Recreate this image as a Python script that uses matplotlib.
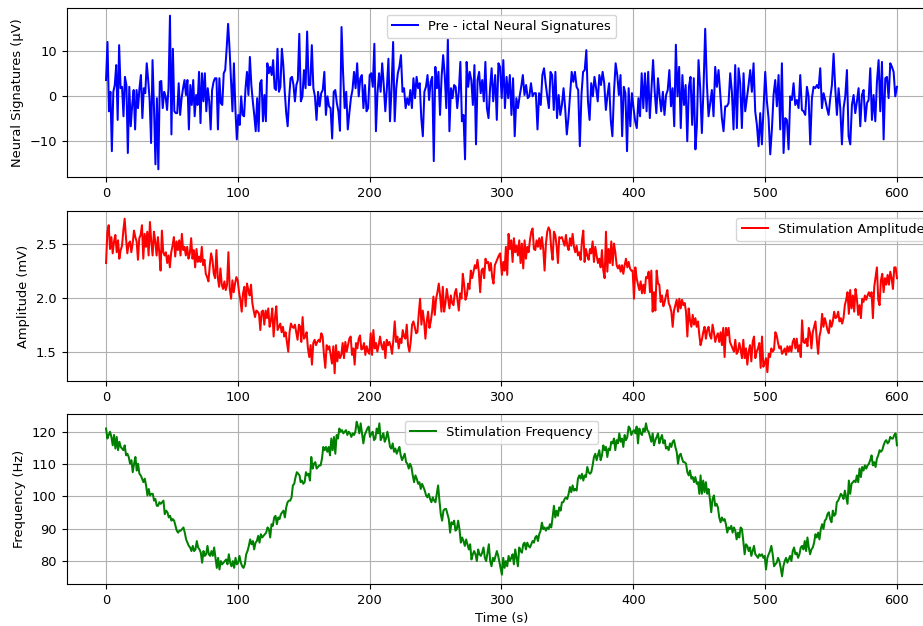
import numpy as np
import matplotlib
matplotlib.use("Agg")
import matplotlib.pyplot as plt

plt.rcParams["font.size"] = 9.4

# ---------------- data ----------------
# Neural signatures (uV), in four consecutive stretches of time
sig_bounds = [(0, 146.6), (147.8, 293.7), (295.2, 447.1), (448.2, 600)]
sig_a = [3.5, 11.9, -3.4, 0.9, -12.2, 0.9, 2.4, 6.8, -5.3, 11.2, 1.7, 2.0, -4.5, 4.2, 2.4, -12.6,
         2.0, -6.7, -2.0, 1.3, -7.4, 1.3, -2.7, 1.7, 4.6, -4.9, 1.7, 0.6, 7.2, 3.5, -0.9, -10.4,
         7.9, -2.7, -15.1, -0.5, -16.2, 3.1, 3.3, -2.7, 0.9, -0.1, -3.1, 1.7, 17.7, -8.5, 10.4,
         -3.4, -3.8, -3.8, 2.8, -4.2, -0.5, 1.7, 3.5, 0.2, 3.5, -7.4, 2.4, -2.0, 3.5, -4.5, 0.2,
         -2.0, 5.3, -6.0, 5.0, -1.2, 5.0, -3.4, 1.7, -1.2, -7.4, 1.3, 3.1, 3.9, 3.9, -7.4, 3.9,
         -1.6, -2.0, 5.0, 5.7, 10.4, 15.9, 10.4, 3.5, -3.4, 7.2, -2.7, -9.6, -4.2, -6.4, -0.1,
         -4.2, -4.5, 1.7, 5.3, 0.2, 8.6, 2.4, -1.2, -4.2, -7.8, -0.5, -7.8, 2.8, 3.5, -5.6, 0.2,
         -5.6, 7.2, 5.0, 6.4, 4.6, 7.9, 1.7, 1.3, 10.4, 0.9, 2.0, 10.4, 6.8, 0.9, -3.8, -6.7,
         -0.5, 3.9, 4.2, 2.4, -1.2, 2.4, 3.5, 13.7]
sig_b = [-1.2, -0.1, 5.7, 1.7, 14.2, 2.4, 2.4, 11.2, 1.7, -0.1, -5.3, 0.9, -2.3, 0.6, 1.3, 5.3,
         -4.2, -0.1, -2.3, -2.7, -9.4, 0.9, 1.3, -1.6, -3.4, -7.7, 15.2, 5.0, -2.7, 0.9, -7.4,
         -3.8, -0.5, 1.3, 5.3, 1.7, 7.2, -0.1, 3.9, 4.6, -2.7, 2.4, -3.4, -2.7, 4.6, 5.0, 2.0,
         11.5, -7.8, 0.6, 5.0, 0.9, 7.2, 2.4, -3.4, 1.7, 8.2, -5.6, 1.7, 11.9, -5.6, 1.7, 5.0,
         6.4, 9.0, 0.9, 1.7, -2.7, -0.5, -2.0, 1.3, -2.7, 3.9, -0.5, 4.2, 1.7, 2.8, -4.9, -8.9,
         0.9, 2.0, 4.6, -0.9, 3.1, 4.2, -14.4, 6.4, 1.7, 5.3, -4.2, 4.2, 9.0, 4.6, -2.7, 12.5,
         -7.8, 1.7, -0.5, 2.4, 2.0, -2.7, 0.9, 7.5, -5.6, -4.2, -14.0, 7.5, 2.0, 5.3, 3.5, -2.0,
         6.8, -10.7, 3.5, 5.3, 0.6, 3.5, -1.2, 7.5, -2.7, -4.9, 1.7, 6.1, -1.2]
sig_c = [4.6, -5.3, 7.2, 6.4, -0.5, 7.9, -2.7, 4.2, -0.5, 4.6, -4.2, 3.9, -8.9, -0.5, -2.7,
         -0.1, 2.0, 4.6, 0.2, 2.4, -0.5, -0.1, 2.8, -0.1, 0.6, 0.6, -7.4, 0.6, -2.0, 4.6, 6.1,
         2.8, -0.1, -2.7, 5.3, 4.6, -3.1, 5.3, -4.9, 0.2, -4.2, -2.0, 1.7, -2.7, -8.5, -4.9, 0.2,
         5.3, 3.1, 5.3, 2.0, 1.3, -11.1, 0.2, 5.3, 5.7, 10.1, -1.2, -5.3, 2.8, -0.1, 4.2, 1.7,
         -1.2, 4.6, 2.4, 5.3, 2.8, -3.1, 0.2, 2.8, -5.3, -8.9, 0.9, 7.2, 4.6, 0.2, 4.6, -8.9, 2.0,
         0.6, -12.2, 1.7, -6.7, 0.6, -2.7, -5.6, -7.1, -0.5, -4.5, 5.0, -2.7, 5.0, -3.4, 5.3,
         -4.9, 1.7, 7.9, 0.9, -3.8, 3.9, -0.1, -3.4, 0.9, -4.2, 0.2, 1.3, 5.7, -2.3, 1.7, -6.7,
         11.3, -0.1, 6.4, -7.1, 4.6, -2.0, 2.4, -10.0, 2.0, 4.2, -6.4, 3.9, -11.8]
sig_d = [-6.7, 7.9, 1.7, -8.2, 1.7, 14.8, 2.8, -4.5, -1.6, 1.3, -4.5, 6.4, 2.0, 5.7, 0.6, -4.9,
         -7.8, -2.3, -2.3, -1.6, 5.0, 0.9, -7.4, 6.8, -7.1, 6.1, 2.8, -7.1, 5.0, -3.4, -0.5, 2.4,
         5.7, 0.9, 7.2, -3.4, -6.4, -11.1, -3.8, -10.7, -2.7, 5.3, -1.2, -4.9, -12.9, -7.4, 0.2,
         3.5, -2.3, 4.6, -7.4, 7.2, -12.6, -4.9, -5.3, -11.8, -0.1, -0.9, 2.8, -2.0, -0.9, -2.7,
         4.6, -3.1, -3.4, -4.2, 2.0, -0.1, -10.7, -0.5, 2.0, 1.7, 2.4, 1.7, 6.1, -2.7, 0.6, -0.9,
         -2.7, -4.2, -0.5, 2.4, 9.3, 1.7, -4.2, 1.7, -2.7, -10.7, -2.7, -0.1, 5.7, -8.9, -10.7,
         -2.0, 0.2, -3.8, -1.2, 1.7, -6.7, 0.2, 1.3, -5.6, -1.6, -0.9, 6.1, -5.3, 0.2, -5.6, 3.1,
         7.9, -3.4, 7.5, -9.6, 3.9, 4.2, -0.5, 7.2, 6.4, 5.3, -0.1, 2.0]

# Stimulation amplitude (mV)
amp_bounds = [(0, 147.3), (148.1, 299.0), (300.3, 450.1), (451.0, 600)]
amp_a = [2.32, 2.61, 2.67, 2.45, 2.56, 2.41, 2.52, 2.58, 2.42, 2.53, 2.36, 2.44, 2.48, 2.62, 2.73,
         2.55, 2.41, 2.50, 2.52, 2.42, 2.50, 2.62, 2.56, 2.52, 2.35, 2.55, 2.58, 2.67, 2.36, 2.59,
         2.47, 2.61, 2.39, 2.70, 2.52, 2.39, 2.61, 2.52, 2.39, 2.56, 2.42, 2.25, 2.62, 2.42, 2.39,
         2.42, 2.32, 2.39, 2.28, 2.42, 2.48, 2.56, 2.38, 2.52, 2.44, 2.53, 2.39, 2.59, 2.44, 2.47,
         2.39, 2.47, 2.36, 2.41, 2.55, 2.36, 2.44, 2.28, 2.45, 2.33, 2.38, 2.33, 2.47, 2.30, 2.35,
         2.22, 2.19, 2.15, 2.30, 2.41, 2.35, 2.22, 2.18, 2.44, 2.19, 2.10, 2.27, 2.12, 2.08, 2.15,
         2.07, 2.12, 2.42, 2.08, 1.99, 2.16, 2.05, 2.13, 2.19, 2.16, 2.05, 1.98, 1.87, 2.04, 2.10,
         1.92, 2.13, 2.07, 2.02, 2.12, 1.95, 1.88, 1.82, 1.88, 1.87, 1.85, 1.70, 1.87, 1.88, 1.75,
         1.88, 1.81, 1.90, 1.73, 1.79, 1.90, 1.64, 1.81, 1.92, 1.70, 1.73, 1.76, 1.68, 1.73, 1.64,
         1.68, 1.59, 1.50, 1.68, 1.76, 1.73, 1.72, 1.75, 1.68, 1.61, 1.75, 1.73]
amp_b = [1.59, 1.82, 1.62, 1.64, 1.68, 1.53, 1.45, 1.56, 1.38, 1.58, 1.61, 1.56, 1.59, 1.61, 1.59,
         1.67, 1.64, 1.47, 1.35, 1.56, 1.52, 1.55, 1.47, 1.39, 1.55, 1.30, 1.56, 1.41, 1.50, 1.44,
         1.47, 1.58, 1.44, 1.59, 1.50, 1.56, 1.62, 1.64, 1.47, 1.53, 1.38, 1.58, 1.53, 1.62, 1.65,
         1.52, 1.53, 1.58, 1.47, 1.55, 1.50, 1.48, 1.67, 1.47, 1.70, 1.53, 1.58, 1.50, 1.56, 1.64,
         1.56, 1.52, 1.59, 1.44, 1.61, 1.56, 1.59, 1.55, 1.48, 1.61, 1.78, 1.59, 1.64, 1.53, 1.62,
         1.58, 1.70, 1.64, 1.62, 1.75, 1.56, 1.50, 1.59, 1.75, 1.78, 1.73, 1.67, 1.68, 1.85, 1.99,
         1.75, 1.88, 1.78, 1.62, 1.78, 1.87, 1.72, 1.78, 1.87, 2.01, 1.84, 1.99, 2.05, 2.13, 2.02,
         1.87, 2.10, 1.87, 1.95, 2.08, 1.99, 1.90, 2.02, 1.95, 1.93, 2.04, 2.08, 1.98, 1.88, 2.04,
         1.99, 2.22, 2.12, 1.98, 2.02, 2.13, 2.08, 2.25, 2.18, 2.24, 2.30, 2.27, 2.35, 2.24, 2.05,
         2.25, 2.27, 2.18, 2.36, 2.32, 2.33, 2.25, 2.32, 2.19, 2.13, 2.30, 2.33, 2.36, 2.39, 2.41]
amp_c = [2.21, 2.33, 2.25, 2.47, 2.21, 2.59, 2.45, 2.53, 2.33, 2.55, 2.42, 2.48, 2.39, 2.53, 2.32,
         2.50, 2.27, 2.53, 2.36, 2.47, 2.42, 2.53, 2.61, 2.64, 2.45, 2.44, 2.53, 2.47, 2.55, 2.45,
         2.56, 2.45, 2.25, 2.50, 2.61, 2.65, 2.62, 2.45, 2.35, 2.61, 2.58, 2.48, 2.32, 2.56, 2.55,
         2.56, 2.52, 2.48, 2.58, 2.48, 2.44, 2.55, 2.48, 2.59, 2.47, 2.42, 2.48, 2.39, 2.42, 2.35,
         2.53, 2.62, 2.33, 2.45, 2.39, 2.35, 2.45, 2.41, 2.52, 2.33, 2.47, 2.39, 2.32, 2.36, 2.28,
         2.44, 2.25, 2.18, 2.61, 2.24, 2.45, 2.32, 2.52, 2.30, 2.50, 2.42, 2.30, 2.27, 2.30, 2.24,
         2.30, 2.22, 2.30, 2.36, 2.28, 2.33, 2.27, 2.25, 2.25, 1.99, 2.28, 2.18, 2.12, 2.07, 2.15,
         2.04, 2.12, 2.04, 2.19, 2.18, 2.24, 2.05, 2.25, 1.87, 2.05, 1.88, 2.25, 2.13, 2.12, 1.96,
         2.02, 1.92, 1.96, 2.02, 2.07, 1.95, 1.92, 1.87, 1.73, 1.88, 1.93, 1.98, 1.87, 1.99, 1.90,
         1.98, 1.93, 1.95, 1.87, 1.64, 1.90, 1.79, 1.73, 1.84, 1.75, 1.81, 1.73, 1.78, 1.65]
amp_d = [1.56, 1.61, 1.68, 1.73, 1.62, 1.70, 1.73, 1.65, 1.62, 1.75, 1.68, 1.59, 1.64, 1.67, 1.59,
         1.68, 1.56, 1.72, 1.45, 1.72, 1.65, 1.72, 1.59, 1.56, 1.53, 1.50, 1.61, 1.48, 1.50, 1.58,
         1.52, 1.44, 1.61, 1.44, 1.53, 1.38, 1.50, 1.56, 1.41, 1.59, 1.64, 1.44, 1.50, 1.53, 1.58,
         1.35, 1.64, 1.36, 1.39, 1.44, 1.31, 1.48, 1.45, 1.53, 1.50, 1.52, 1.68, 1.65, 1.58, 1.53,
         1.55, 1.48, 1.50, 1.53, 1.47, 1.55, 1.50, 1.55, 1.50, 1.59, 1.62, 1.53, 1.62, 1.50, 1.56,
         1.45, 1.79, 1.59, 1.58, 1.62, 1.55, 1.72, 1.67, 1.53, 1.68, 1.73, 1.78, 1.61, 1.48, 1.64,
         1.70, 1.85, 1.73, 1.81, 1.76, 1.70, 1.67, 1.79, 1.73, 1.78, 1.87, 1.81, 1.82, 1.87, 1.78,
         1.81, 1.76, 1.81, 1.93, 1.98, 2.05, 1.85, 2.07, 1.90, 2.02, 1.87, 2.08, 1.99, 1.84, 1.93,
         1.81, 1.99, 1.96, 2.02, 1.98, 2.02, 2.05, 2.01, 2.05, 1.81, 2.10, 2.19, 2.28, 1.98, 1.93,
         2.16, 2.22, 2.05, 2.18, 2.12, 2.21, 2.12, 2.24, 2.18, 2.08, 2.28, 2.28, 2.18]

# Stimulation frequency (Hz)
freq_bounds = [(0, 146.8), (147.6, 298.5), (300.3, 450.1), (451.0, 600)]
freq_a = [121.0, 117.9, 119.0, 120.0, 118.4, 115.8, 119.0, 114.8, 118.4, 114.3, 116.9, 115.3, 114.8,
          114.3, 115.8, 112.7, 113.2, 112.2, 110.1, 111.2, 107.5, 110.1, 112.2, 108.0, 110.1, 107.0,
          106.5, 105.5, 104.4, 105.5, 103.4, 100.3, 102.3, 100.3, 100.8, 100.8, 98.7, 99.2, 97.1,
          97.1, 98.2, 97.7, 98.2, 98.7, 94.5, 95.6, 95.1, 93.5, 94.0, 92.5, 93.0, 92.5, 90.9, 89.4,
          88.8, 89.4, 89.4, 89.9, 90.4, 88.8, 86.7, 85.7, 84.7, 84.2, 83.1, 84.7, 83.1, 83.6, 86.2,
          84.2, 83.6, 82.6, 79.5, 83.1, 81.6, 82.1, 84.7, 82.1, 81.6, 83.1, 81.6, 84.2, 81.0, 77.9,
          81.0, 77.4, 80.0, 79.0, 79.5, 80.0, 80.5, 79.0, 82.1, 79.5, 78.4, 80.0, 77.9, 81.0, 79.0,
          79.5, 81.6, 79.5, 78.4, 77.9, 79.0, 82.1, 83.1, 84.7, 86.7, 85.2, 86.2, 83.6, 85.7, 86.2,
          87.8, 85.7, 88.3, 87.3, 87.8, 88.3, 88.8, 90.4, 89.9, 87.3, 91.4, 90.9, 93.5, 94.0, 91.4,
          93.5, 93.0, 94.5, 95.1, 95.6, 93.5, 96.6, 98.2, 98.7, 98.7, 99.7, 103.4, 103.9, 106.0,
          107.5, 107.0, 106.5]
freq_b = [104.4, 104.9, 103.9, 104.4, 107.5, 106.5, 107.0, 104.9, 112.2, 108.6, 110.1, 110.6, 108.6,
          109.1, 109.6, 109.6, 111.7, 115.3, 114.3, 115.3, 113.8, 115.3, 112.7, 117.9, 114.3, 118.4,
          113.2, 119.0, 117.9, 121.0, 120.0, 120.5, 119.5, 120.0, 120.5, 119.0, 120.0, 119.5, 118.4,
          119.5, 119.0, 120.0, 123.1, 121.6, 119.5, 122.6, 119.5, 116.4, 119.0, 120.0, 121.0, 121.6,
          118.4, 119.5, 120.0, 117.4, 117.9, 121.0, 119.5, 122.6, 117.4, 118.4, 119.5, 116.9, 117.9,
          120.0, 117.9, 115.3, 114.8, 116.4, 113.8, 114.8, 113.2, 114.3, 115.3, 112.7, 111.2, 112.2,
          113.2, 110.6, 110.1, 108.6, 110.1, 109.1, 106.5, 104.4, 106.5, 105.5, 103.9, 104.4, 102.3,
          103.9, 102.9, 101.8, 100.3, 99.7, 100.8, 99.2, 98.2, 99.7, 98.7, 98.2, 100.8, 103.4, 98.7,
          94.5, 92.5, 95.6, 96.1, 96.1, 94.5, 93.0, 88.8, 92.0, 91.4, 92.5, 89.4, 89.9, 92.5, 89.9,
          85.7, 87.3, 86.2, 84.7, 86.7, 85.2, 83.6, 85.2, 80.5, 82.1, 83.1, 82.1, 80.0, 83.6, 82.1,
          81.6, 82.6, 84.2, 81.0, 80.0, 82.6, 85.2, 80.0, 78.4, 81.0, 80.0, 81.6, 83.1, 81.6, 79.5]
freq_c = [75.8, 81.0, 77.9, 80.0, 78.4, 81.6, 80.0, 81.0, 82.1, 79.0, 83.6, 81.0, 78.4, 84.2, 83.1,
          82.6, 85.2, 85.7, 83.6, 85.7, 84.7, 84.2, 85.2, 86.2, 85.7, 87.3, 87.8, 86.2, 88.3, 89.4,
          91.9, 89.9, 90.4, 89.4, 90.4, 89.9, 91.4, 90.4, 93.5, 97.1, 93.5, 95.6, 94.0, 96.6, 95.6,
          98.2, 98.2, 99.2, 99.7, 99.2, 100.8, 102.9, 101.3, 103.4, 101.8, 102.3, 101.8, 105.5, 106.5,
          105.5, 107.0, 104.9, 106.5, 106.0, 109.1, 107.5, 107.0, 107.5, 109.6, 112.2, 113.2, 111.2,
          112.7, 114.3, 111.2, 112.7, 115.8, 114.3, 115.3, 112.2, 114.8, 114.3, 116.9, 116.4, 117.9,
          114.3, 117.4, 116.4, 119.5, 116.9, 117.9, 115.3, 119.0, 117.4, 118.4, 121.6, 121.0, 119.0,
          120.0, 120.5, 119.5, 121.6, 116.4, 121.0, 119.5, 119.0, 121.0, 120.0, 122.6, 120.5, 120.0,
          118.4, 116.9, 119.5, 115.8, 117.4, 118.4, 119.5, 116.4, 117.9, 119.0, 116.4, 117.4, 114.8,
          115.3, 114.3, 116.4, 115.3, 116.9, 117.4, 115.3, 113.8, 110.1, 112.7, 113.2, 111.7, 110.6,
          110.6, 110.1, 107.5, 106.5, 108.0, 105.5, 106.0, 104.4, 106.0, 103.9, 104.4, 100.8]
freq_d = [106.5, 100.8, 104.9, 101.3, 104.4, 100.8, 102.3, 99.2, 95.1, 99.2, 100.3, 97.1, 97.7,
          96.6, 93.5, 92.0, 93.5, 92.5, 93.0, 91.4, 88.8, 90.4, 89.9, 90.9, 88.8, 90.4, 89.4, 86.7,
          88.8, 87.3, 90.4, 89.9, 86.2, 82.1, 85.2, 84.7, 83.1, 84.2, 81.6, 83.1, 84.7, 82.1, 81.6,
          81.0, 82.1, 81.6, 82.1, 81.0, 81.6, 77.4, 81.0, 82.1, 83.1, 84.7, 82.1, 78.4, 79.0, 79.5,
          81.0, 80.0, 77.9, 75.3, 78.4, 80.0, 81.0, 79.5, 80.5, 81.6, 80.0, 83.1, 84.2, 82.1, 82.6,
          81.0, 82.1, 84.2, 84.7, 83.6, 86.2, 83.1, 87.3, 84.2, 82.1, 83.6, 84.2, 85.7, 88.3, 87.3,
          88.8, 86.7, 89.9, 91.4, 89.9, 92.5, 93.0, 94.5, 95.1, 93.0, 92.0, 95.6, 94.0, 94.5, 98.2,
          98.7, 99.7, 100.8, 100.3, 99.2, 101.8, 99.7, 97.7, 104.9, 100.8, 103.9, 104.4, 104.9, 104.4,
          106.5, 104.4, 108.6, 106.0, 109.1, 108.0, 109.6, 108.6, 109.6, 110.1, 111.2, 112.7, 109.6,
          110.6, 109.1, 111.7, 112.7, 114.3, 113.8, 114.3, 115.8, 116.9, 117.4, 116.4, 116.9, 118.4,
          117.9, 117.9, 119.0, 119.5, 115.8]

x_ticks = [0, 100, 200, 300, 400, 500, 600]


def assemble(bounds, segments):
    ts, vs = [], []
    for (a, b), seg in zip(bounds, segments):
        ts.append(np.linspace(a, b, len(seg)))
        vs.append(np.asarray(seg, dtype=float))
    return np.concatenate(ts), np.concatenate(vs)


t_sig, v_sig = assemble(sig_bounds, [sig_a, sig_b, sig_c, sig_d])
t_amp, v_amp = assemble(amp_bounds, [amp_a, amp_b, amp_c, amp_d])
t_frq, v_frq = assemble(freq_bounds, [freq_a, freq_b, freq_c, freq_d])

# ---------------- figure ----------------
fig = plt.figure(figsize=(9.23, 6.26), dpi=100)
W, H = 923.0, 626.0
left = 66.5 / W
width = 870.0 / W


def make_ax(top_px, bottom_px):
    return fig.add_axes([left, 1 - bottom_px / H, width, (bottom_px - top_px) / H])


ax1 = make_ax(8, 177)
ax2 = make_ax(211, 381)
ax3 = make_ax(414, 584)

LW = 1.45
ax1.plot(t_sig, v_sig, color="blue", lw=LW, label="Pre - ictal Neural Signatures")
ax1.set_ylabel("Neural Signatures (µV)")
ax1.legend(loc="upper center")

ax2.plot(t_amp, v_amp, color="red", lw=LW, label="Stimulation Amplitude")
ax2.set_ylabel("Amplitude (mV)")
ax2.set_yticks([1.5, 2.0, 2.5])
ax2.legend(loc="upper right")

ax3.plot(t_frq, v_frq, color="green", lw=LW, label="Stimulation Frequency")
ax3.set_ylabel("Frequency (Hz)")
ax3.set_xlabel("Time (s)")
ax3.set_yticks([80, 90, 100, 110, 120])
ax3.legend(loc="upper center")

for ax in (ax1, ax2, ax3):
    ax.set_xticks(x_ticks)
    ax.grid(True)

fig.savefig("out.png", dpi=100)
